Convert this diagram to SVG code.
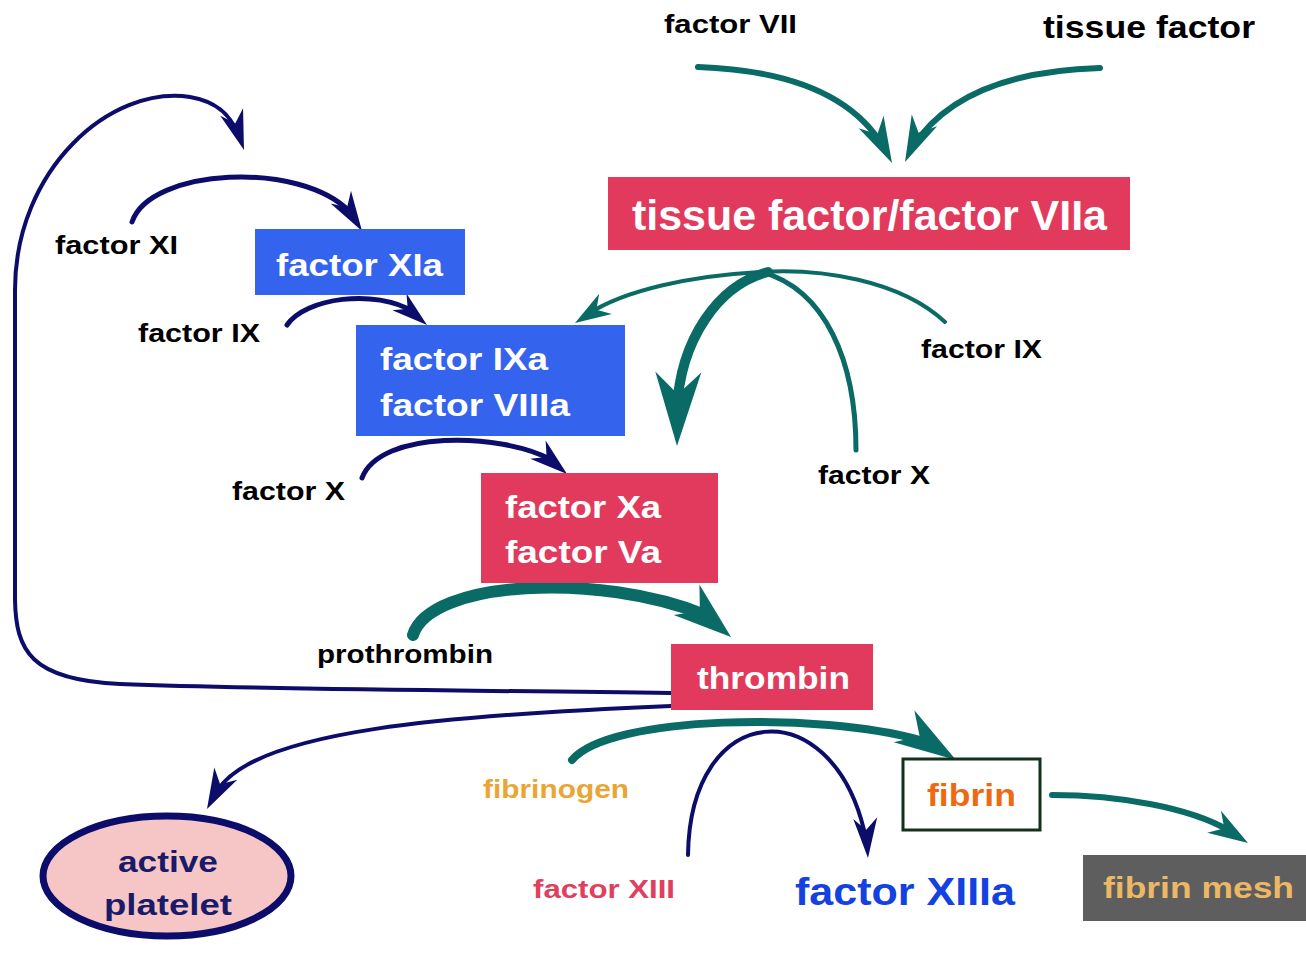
<svg xmlns="http://www.w3.org/2000/svg" width="1306" height="954" viewBox="0 0 1306 954">
<style>
text{font-family:"Liberation Sans",Arial,sans-serif;font-weight:bold}
.lbl{font-size:25px;fill:#000}
.wt{fill:#fff;font-size:32px}
.teal{fill:none;stroke:#0a6b66;stroke-linecap:round}
.navy{fill:none;stroke:#0c0c6a;stroke-linecap:round}
.ht{fill:#0a6b66}
.hn{fill:#0c0c6a}
</style>
<defs>
<path id="ah" d="M0,0 L-1,-0.5 L-0.7,0 L-1,0.5 Z"/>
</defs>
<rect width="1306" height="954" fill="#fff"/>
<g id="connectors">
<path class="teal" stroke-width="6" d="M698,67 Q840,72 884,148"/>
<use href="#ah" class="ht" transform="translate(892,163) rotate(63) scale(46,28)"/>
<path class="teal" stroke-width="6" d="M1100,68 Q960,72 912,148"/>
<use href="#ah" class="ht" transform="translate(905,162) rotate(115) scale(46,28)"/>
<path class="teal" stroke-width="4" d="M945,322 C900,280 820,268 760,272 C690,276 625,290 588,314"/>
<use href="#ah" class="ht" transform="translate(575,323) rotate(148) scale(36,24)"/>
<path class="teal" stroke-width="5" d="M856,450 C856,360 825,290 762,272"/>
<path class="teal" stroke-width="10" d="M768,272 C718,285 680,340 677,410"/>
<use href="#ah" class="ht" transform="translate(677,446) rotate(91) scale(74,46)"/>
<path class="navy" stroke-width="5" d="M132,222 C150,168 300,160 350,212"/>
<use href="#ah" class="hn" transform="translate(362,231) rotate(58) scale(40,24)"/>
<path class="navy" stroke-width="4" d="M671,693 C450,690 280,690 120,684 C30,680 16,650 15,600 L15,290 C15,170 110,85 190,97 C220,102 232,118 238,135"/>
<use href="#ah" class="hn" transform="translate(244,150) rotate(72) scale(40,24)"/>
<path class="navy" stroke-width="5" d="M287,325 C305,298 375,288 414,312"/>
<use href="#ah" class="hn" transform="translate(427,325) rotate(40) scale(36,22)"/>
<path class="navy" stroke-width="5" d="M362,478 C380,430 500,432 552,460"/>
<use href="#ah" class="hn" transform="translate(567,474) rotate(40) scale(38,24)"/>
<path class="teal" stroke-width="12" d="M413,635 C430,580 600,572 705,615"/>
<use href="#ah" class="ht" transform="translate(731,637) rotate(40) scale(58,40)"/>
<path class="navy" stroke-width="4" d="M671,706 C450,715 255,730 218,790"/>
<use href="#ah" class="hn" transform="translate(207,809) rotate(118) scale(40,26)"/>
<path class="teal" stroke-width="8" d="M572,760 C610,715 820,712 920,740"/>
<use href="#ah" class="ht" transform="translate(956,760) rotate(33) scale(62,38)"/>
<path class="navy" stroke-width="4" d="M688,855 C690,700 830,690 864,830"/>
<use href="#ah" class="hn" transform="translate(868,858) rotate(86) scale(40,24)"/>
<path class="teal" stroke-width="6" d="M1052,795 C1120,795 1190,808 1228,830"/>
<use href="#ah" class="ht" transform="translate(1248,843) rotate(32) scale(40,26)"/>
</g>
<g id="n-factorVII"><text class="lbl" x="664" y="33" font-size="26" textLength="133" lengthAdjust="spacingAndGlyphs">factor VII</text></g>
<g id="n-tissuefactor"><text class="lbl" x="1043" y="38" style="font-size:32px" textLength="212" lengthAdjust="spacingAndGlyphs">tissue factor</text></g>
<g id="n-tfVIIa"><rect x="608" y="177" width="522" height="73" fill="#e13a5c"/><text class="wt" x="632" y="230" style="font-size:42px" textLength="475" lengthAdjust="spacingAndGlyphs">tissue factor/factor VIIa</text></g>
<g id="n-factorXI"><text class="lbl" x="55" y="254" textLength="123" lengthAdjust="spacingAndGlyphs">factor XI</text></g>
<g id="n-factorXIa"><rect x="255" y="229" width="210" height="66" fill="#3464ee"/><text class="wt" x="276" y="276" textLength="167" lengthAdjust="spacingAndGlyphs">factor XIa</text></g>
<g id="n-factorIX-left"><text class="lbl" x="138" y="342" textLength="122" lengthAdjust="spacingAndGlyphs">factor IX</text></g>
<g id="n-IXaVIIIa"><rect x="356" y="325" width="269" height="111" fill="#3464ee"/><text class="wt" x="380" y="370" textLength="168" lengthAdjust="spacingAndGlyphs">factor IXa</text><text class="wt" x="380" y="416" textLength="190" lengthAdjust="spacingAndGlyphs">factor VIIIa</text></g>
<g id="n-factorIX-right"><text class="lbl" x="921" y="358" textLength="121" lengthAdjust="spacingAndGlyphs">factor IX</text></g>
<g id="n-factorX-left"><text class="lbl" x="232" y="500" textLength="113" lengthAdjust="spacingAndGlyphs">factor X</text></g>
<g id="n-factorX-right"><text class="lbl" x="818" y="484" textLength="112" lengthAdjust="spacingAndGlyphs">factor X</text></g>
<g id="n-XaVa"><rect x="481" y="473" width="237" height="110" fill="#e13a5c"/><text class="wt" x="505" y="518" textLength="156" lengthAdjust="spacingAndGlyphs">factor Xa</text><text class="wt" x="505" y="563" textLength="156" lengthAdjust="spacingAndGlyphs">factor Va</text></g>
<g id="n-prothrombin"><text class="lbl" x="317" y="663" textLength="176" lengthAdjust="spacingAndGlyphs">prothrombin</text></g>
<g id="n-thrombin"><rect x="671" y="644" width="202" height="66" fill="#e13a5c"/><text class="wt" x="697" y="689" textLength="153" lengthAdjust="spacingAndGlyphs">thrombin</text></g>
<g id="n-fibrinogen"><text class="lbl" x="483" y="798" style="fill:#eaa534" textLength="146" lengthAdjust="spacingAndGlyphs">fibrinogen</text></g>
<g id="n-fibrin"><rect x="903" y="759" width="137" height="71" fill="#fff" stroke="#15301a" stroke-width="3"/><text x="927" y="806" style="font-size:32px;fill:#ee6a12" textLength="89" lengthAdjust="spacingAndGlyphs">fibrin</text></g>
<g id="n-factorXIII"><text class="lbl" x="533" y="898" style="fill:#e0405e" textLength="142" lengthAdjust="spacingAndGlyphs">factor XIII</text></g>
<g id="n-factorXIIIa"><text x="795" y="905" style="font-size:38px;fill:#1442e0" textLength="220" lengthAdjust="spacingAndGlyphs">factor XIIIa</text></g>
<g id="n-fibrinmesh"><rect x="1083" y="855" width="223" height="66" fill="#5e5e5e"/><text x="1103" y="898" style="font-size:30px;fill:#eab866" textLength="191" lengthAdjust="spacingAndGlyphs">fibrin mesh</text></g>
<g id="n-platelet"><ellipse cx="167" cy="876" rx="124" ry="60" fill="#f6c6c6" stroke="#0c0c6a" stroke-width="7"/><text x="118" y="872" style="font-size:30px;fill:#1a1a6a" textLength="100" lengthAdjust="spacingAndGlyphs">active</text><text x="104" y="915" style="font-size:30px;fill:#1a1a6a" textLength="128" lengthAdjust="spacingAndGlyphs">platelet</text></g>
</svg>
